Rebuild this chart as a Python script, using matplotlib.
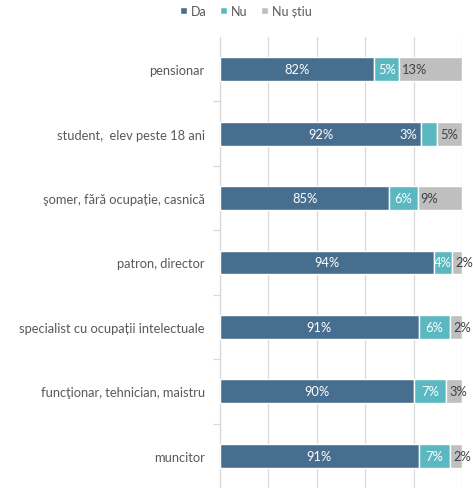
import matplotlib.pyplot as plt
import numpy as np

plt.rcParams['font.family'] = ['Lato', 'DejaVu Sans']

categories = ['pensionar', 'student,  elev peste 18 ani', 'şomer, fără ocupație, casnică',
              'patron, director', 'specialist cu ocupații intelectuale',
              'funcţionar, tehnician, maistru', 'muncitor']
# bar lengths as drawn (share of the axis)
da = [63.7, 83.0, 69.9, 88.3, 82.1, 80.1, 82.0]
nu = [10.2, 6.7, 11.7, 7.6, 12.9, 13.3, 13.0]
ns = [26.1, 10.3, 18.4, 4.1, 5.0, 6.6, 5.0]
# labels printed on the bars
da_lbl = ['82%', '92%', '85%', '94%', '91%', '90%', '91%']
nu_lbl = ['5%', '3%', '6%', '4%', '6%', '7%', '7%']
ns_lbl = ['13%', '5%', '9%', '2%', '2%', '3%', '2%']
series = ['Da', 'Nu', 'Nu știu']
colors = ['#486E8F', '#5BB8C1', '#BFBFBF']

fig = plt.figure(figsize=(4.73, 4.89), dpi=100)
ax = fig.add_axes([0.4651, 0.0, 0.5123, 0.9223])

y = np.arange(len(categories))
da = np.array(da)
nu = np.array(nu)
ns = np.array(ns)
h = 0.37
b1 = ax.barh(y, da, height=h, color=colors[0], edgecolor='white', linewidth=1.0, label=series[0], zorder=3)
b2 = ax.barh(y, nu, left=da, height=h, color=colors[1], edgecolor='white', linewidth=1.0, label=series[1], zorder=3)
b3 = ax.barh(y, ns, left=da + nu, height=h, color=colors[2], edgecolor='white', linewidth=1.0, label=series[2], zorder=3)

fs = 9.3
for i in range(len(categories)):
    ax.text(da[i] / 2, i, da_lbl[i], ha='center', va='center', color='white', fontsize=fs, zorder=4)
    if nu[i] < 7:
        ax.text(da[i] - 1.5, i, nu_lbl[i], ha='right', va='center', color='white', fontsize=fs, zorder=4)
    else:
        ax.text(da[i] + nu[i] / 2, i, nu_lbl[i], ha='center', va='center', color='white', fontsize=fs, zorder=4)
    ax.text(da[i] + nu[i] + 1.2, i, ns_lbl[i], ha='left', va='center', color='#404040', fontsize=fs,
            zorder=4, clip_on=False)

ax.set_xlim(0, 100)
ax.set_ylim(len(categories) - 0.5, -0.5)
ax.set_xticks(np.arange(0, 101, 20))
ax.tick_params(axis='x', length=0, labelbottom=False)
ax.grid(axis='x', color='#D9D9D9', linewidth=0.9, zorder=0)
ax.set_yticks(y, categories)
ax.set_yticks(np.arange(0.5, len(categories) - 0.5, 1), minor=True)
ax.tick_params(axis='y', which='major', length=0, pad=11, labelsize=9.3, labelcolor='#595959')
ax.tick_params(axis='y', which='minor', length=5, color='#D9D9D9', width=0.9)
for s in ['top', 'right', 'bottom']:
    ax.spines[s].set_visible(False)
ax.spines['left'].set_color('#D9D9D9')
ax.spines['left'].set_linewidth(0.9)

fig.legend(handles=[b1, b2, b3], labels=series, loc='upper center', bbox_to_anchor=(0.52, 1.01), ncol=3,
           frameon=False, fontsize=9, handlelength=0.5, handleheight=0.5, handletextpad=0.35,
           columnspacing=1.1, labelcolor='#595959')

plt.savefig('out.png', dpi=100)
